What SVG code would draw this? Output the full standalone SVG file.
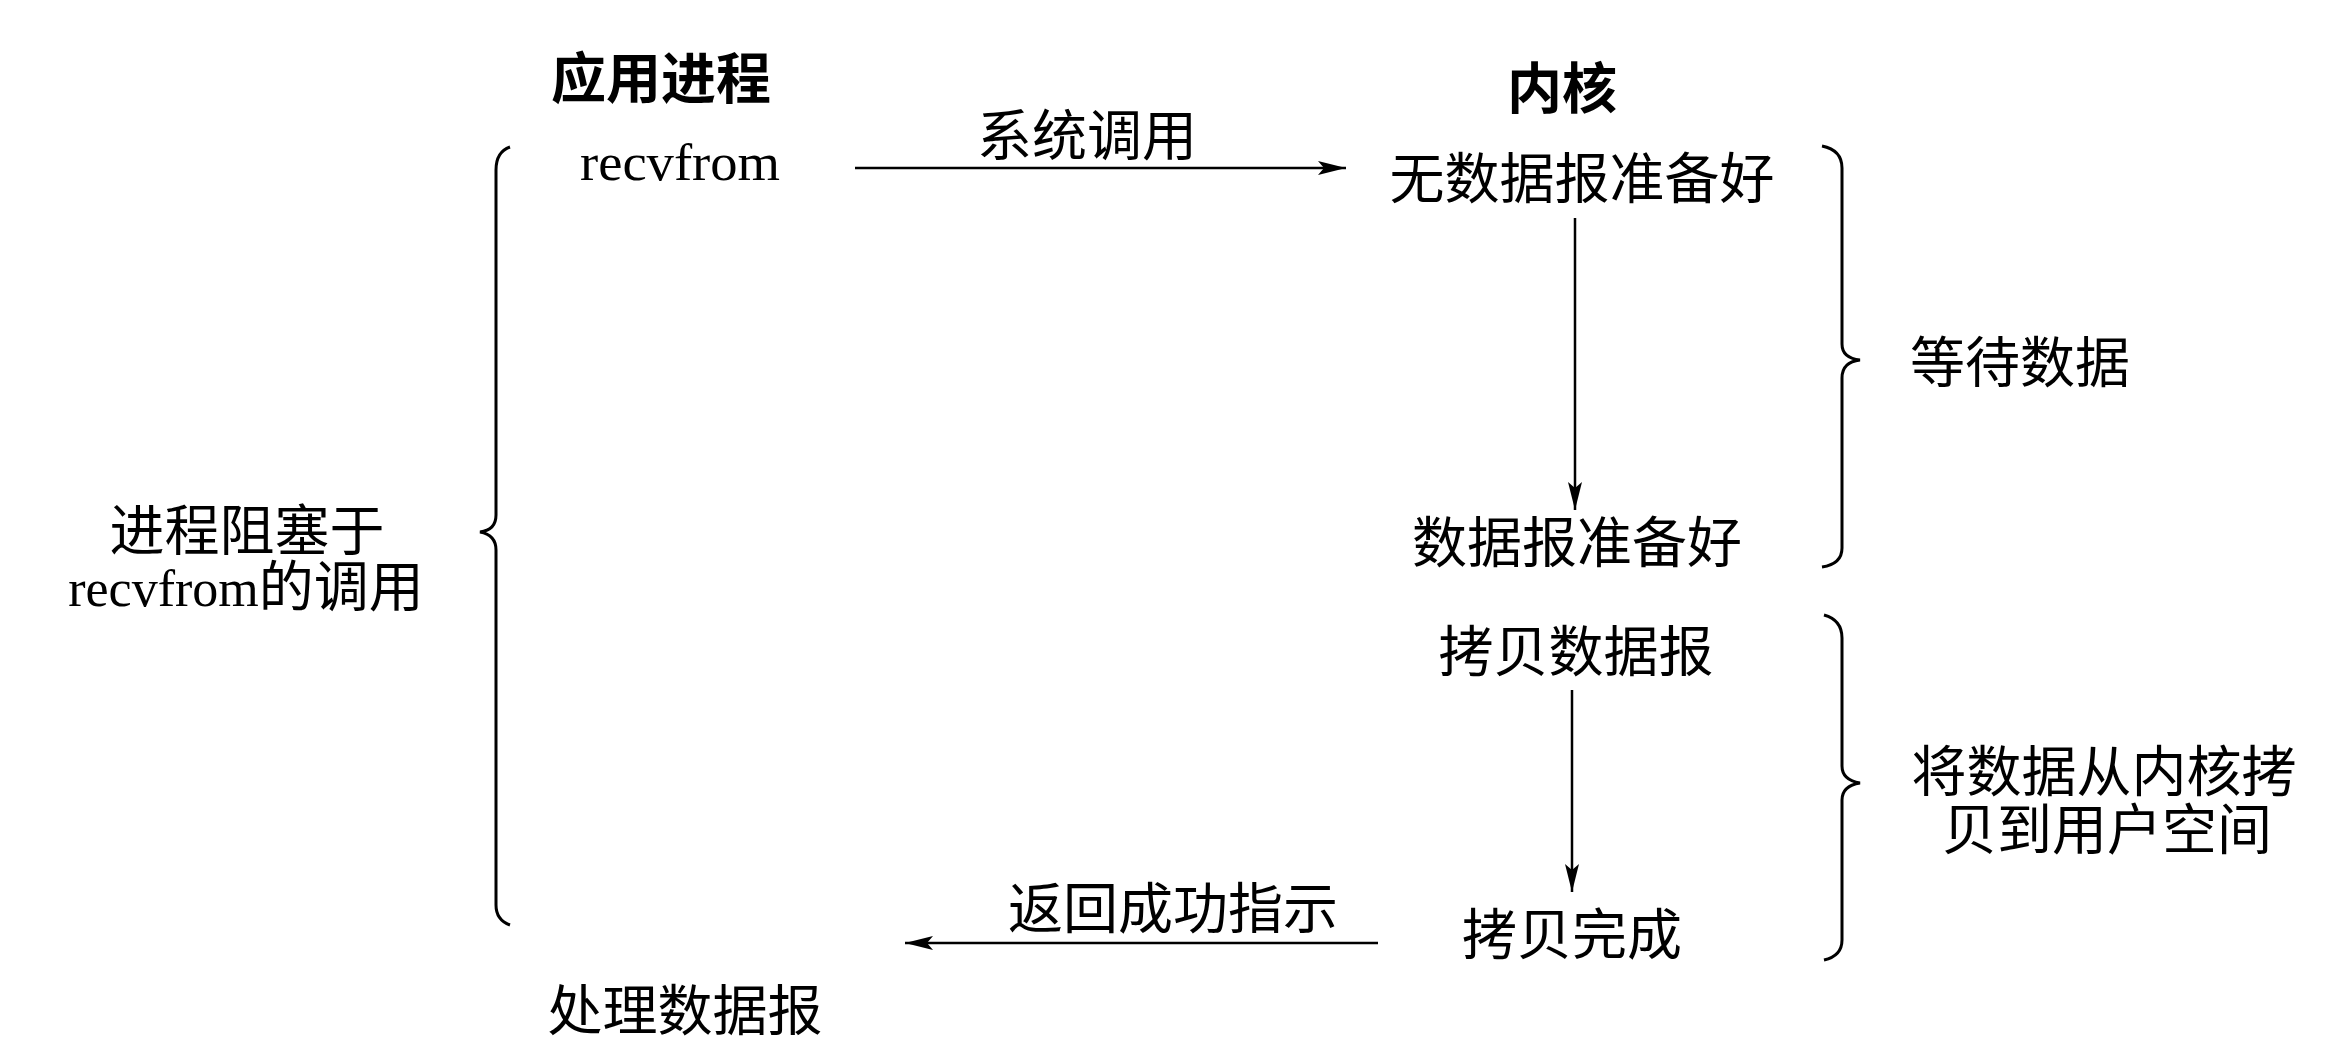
<svg xmlns="http://www.w3.org/2000/svg" width="2352" height="1044" viewBox="0 0 2352 1044">
<style>
.cjk{font-family:"Noto Sans CJK SC","Noto Sans CJK TC",sans-serif;font-size:55px;fill:#000;text-anchor:middle}
.title{font-weight:bold}
.mono{font-family:"Liberation Serif","Noto Sans CJK SC",serif;font-size:52px;fill:#000;text-anchor:middle}
.line{stroke:#000;stroke-width:2.5;fill:none}
.brace{stroke:#000;stroke-width:3;fill:none}
</style>
<defs>
<marker id="ah" markerUnits="userSpaceOnUse" markerWidth="30" markerHeight="16" refX="28" refY="8" orient="auto">
<path d="M0,1 L28,8 L0,15 L6,8 Z" fill="#000"/>
</marker>
</defs>
<rect width="2352" height="1044" fill="#fff"/>
<g id="app-title"><text class="cjk title" x="661" y="98">应用进程</text></g>
<g id="kernel-title"><text class="cjk title" x="1562" y="108">内核</text></g>
<g id="recvfrom"><text class="mono" x="680" y="180" textLength="200" lengthAdjust="spacingAndGlyphs">recvfrom</text></g>
<g id="no-data"><text class="cjk" x="1582" y="198">无数据报准备好</text></g>
<g id="data-ready"><text class="cjk" x="1577" y="562">数据报准备好</text></g>
<g id="copy-data"><text class="cjk" x="1576" y="671">拷贝数据报</text></g>
<g id="copy-done"><text class="cjk" x="1572" y="954">拷贝完成</text></g>
<g id="process"><text class="cjk" x="685" y="1030">处理数据报</text></g>
<g id="wait-data"><text class="cjk" x="2020" y="382">等待数据</text></g>
<g id="copy-to-user"><text class="cjk" x="2104" y="791">将数据从内核拷</text><text class="cjk" x="2107" y="849">贝到用户空间</text></g>
<g id="blocked"><text class="cjk" x="247" y="550">进程阻塞于</text><text class="mono" x="246" y="606">recvfrom<tspan font-family="Noto Sans CJK SC" font-size="55">的调用</tspan></text></g>
<g id="braces">
<path class="brace" d="M510,147 Q496,152 496,170 L496,515 Q496,530 480,532 Q496,535 496,550 L496,905 Q496,920 510,925"/>
<path class="brace" d="M1822,146 Q1842,150 1842,168 L1842,344 Q1842,358 1860,360 Q1842,362 1842,378 L1842,548 Q1842,564 1822,567"/>
<path class="brace" d="M1824,615 Q1842,620 1842,638 L1842,766 Q1842,780 1860,783 Q1842,786 1842,800 L1842,940 Q1842,956 1824,960"/>
</g>
<g id="connectors">
<line class="line" x1="855" y1="168" x2="1346" y2="168" marker-end="url(#ah)"/>
<text class="cjk" x="1087" y="155">系统调用</text>
<line class="line" x1="1575" y1="218" x2="1575" y2="510" marker-end="url(#ah)"/>
<line class="line" x1="1572" y1="690" x2="1572" y2="892" marker-end="url(#ah)"/>
<line class="line" x1="1378" y1="943" x2="905" y2="943" marker-end="url(#ah)"/>
<text class="cjk" x="1173" y="928">返回成功指示</text>
</g>
</svg>
